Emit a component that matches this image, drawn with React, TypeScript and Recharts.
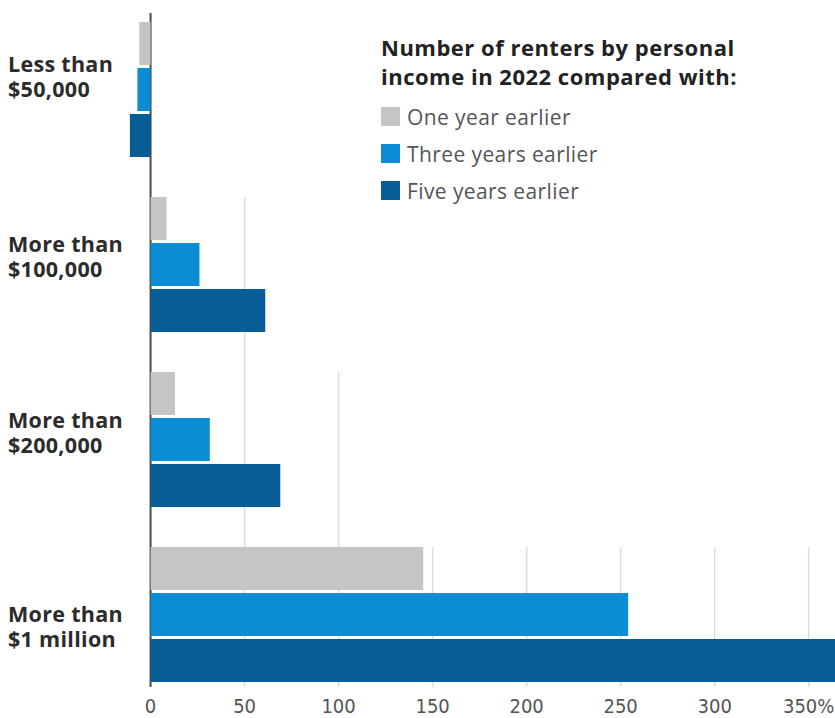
import React from "react";
import { BarChart, Bar, XAxis, YAxis, CartesianGrid, Legend } from "recharts";

// Income groups and the change in renter counts (%)
const categories = [
  "Less than $50,000",
  "More than $100,000",
  "More than $200,000",
  "More than $1 million",
];
const oneYearEarlier = [-6, 8.5, 13, 145];
const threeYearsEarlier = [-7, 26, 31.5, 254];
const fiveYearsEarlier = [-11, 61, 69, 380];
const seriesNames = ["One year earlier", "Three years earlier", "Five years earlier"];
const xTicks = [0, 50, 100, 150, 200, 250, 300, 350];

const data = categories.map((name, i) => ({
  name,
  one: oneYearEarlier[i],
  three: threeYearsEarlier[i],
  five: fiveYearsEarlier[i],
}));

const SANS = "'Open Sans', 'Noto Sans', sans-serif";
const NARROW = "'Liberation Sans Narrow', 'DejaVu Sans Condensed', sans-serif";
const COLORS = { one: "#c5c5c7", three: "#0b8dd5", five: "#075e96" };

// gridlines only start at the group where the longer bars begin
const GRID_FROM: Record<number, number> = { 50: 1, 100: 2 };
// small vertical nudges of the category labels, as in the original
const LABEL_SHIFT = [0, 5, 6, 25];

const CategoryTick = (props: any) => {
  const { y, payload, index } = props;
  const label = String(payload.value);
  const cut = label.indexOf(" $");
  const base = y - 17.5 + (LABEL_SHIFT[index] ?? 0);
  const style = { fontFamily: SANS, fontSize: 21.5, fontWeight: 700, letterSpacing: 0.3 };
  return (
    <g>
      <text x={8} y={base} textAnchor="start" fill="#2b2b2b" style={style}>
        {label.slice(0, cut)}
      </text>
      <text x={8} y={base + 25} textAnchor="start" fill="#2b2b2b" style={style}>
        {label.slice(cut + 1)}
      </text>
    </g>
  );
};

const ValueTick = (props: any) => {
  const { x, y, payload } = props;
  return (
    <text x={x} y={y + 11} textAnchor="middle" fill="#555" fontFamily={NARROW} fontSize={20}>
      {payload.value === 350 ? "350%" : payload.value}
    </text>
  );
};

const renderGrid = (p: any) => {
  const { x1, y1, y2, index, key } = p;
  const tick = xTicks[index];
  if (tick === 0 || tick === undefined) return <g key={key} />;
  const band = (y2 - y1) / categories.length;
  const from = GRID_FROM[tick] ?? 3;
  return (
    <line key={key} x1={x1} x2={x1} y1={y1 + band * from + 20} y2={y2 - 15} stroke="#dcdcdc" strokeWidth={1.5} />
  );
};

const renderZero = (p: any) => {
  const { x1, y1, y2, index, key } = p;
  if (xTicks[index] !== 0) return <g key={key} />;
  return <line key={key} x1={x1} x2={x1} y1={y1 + 11} y2={y2 - 15} stroke="#4a4a4a" strokeWidth={2} />;
};

const renderLegend = (props: any) => {
  const payload = [...(props.payload || [])].sort(
    (a: any, b: any) => seriesNames.indexOf(a.value) - seriesNames.indexOf(b.value)
  );
  return (
    <div style={{ fontFamily: SANS, textAlign: "left" }}>
      <div style={{ fontWeight: 700, fontSize: 22, lineHeight: "29px", color: "#222", letterSpacing: 0.5 }}>
        <div>Number of renters by personal</div>
        <div>income in 2022 compared with:</div>
      </div>
      <div style={{ marginTop: 7 }}>
        {payload.map((entry: any) => (
          <div key={entry.value} style={{ display: "flex", alignItems: "center", height: 37 }}>
            <span style={{ display: "inline-block", width: 19, height: 19, background: entry.color, marginRight: 7 }} />
            <span style={{ fontSize: 21, color: "#555", letterSpacing: 0.4 }}>{entry.value}</span>
          </div>
        ))}
      </div>
    </div>
  );
};

export default function App() {
  return (
    <div style={{ position: "absolute", left: 0, top: 0, width: 835, height: 718, background: "#fff" }}>
      <BarChart
        width={835}
        height={718}
        data={data}
        layout="vertical"
        margin={{ top: 2, right: 0, bottom: 0, left: 0 }}
        barCategoryGap={20}
        barGap={3}
      >
        <CartesianGrid horizontal={false} vertical={renderGrid} />
        <XAxis
          type="number"
          domain={[-12, 364]}
          allowDataOverflow
          ticks={xTicks}
          interval={0}
          axisLine={false}
          tickLine={false}
          tickSize={0}
          tickMargin={0}
          height={16}
          tick={<ValueTick />}
        />
        <YAxis
          type="category"
          dataKey="name"
          width={128}
          axisLine={false}
          tickLine={false}
          interval={0}
          tick={<CategoryTick />}
        />
        <Legend
          layout="vertical"
          align="center"
          verticalAlign="middle"
          wrapperStyle={{ left: 381, top: 33, width: 450 }}
          content={renderLegend}
        />
        <Bar dataKey="one" name={seriesNames[0]} fill={COLORS.one} isAnimationActive={false} />
        <Bar dataKey="three" name={seriesNames[1]} fill={COLORS.three} isAnimationActive={false} />
        <Bar dataKey="five" name={seriesNames[2]} fill={COLORS.five} isAnimationActive={false} />
        <CartesianGrid horizontal={false} vertical={renderZero} />
      </BarChart>
    </div>
  );
}
